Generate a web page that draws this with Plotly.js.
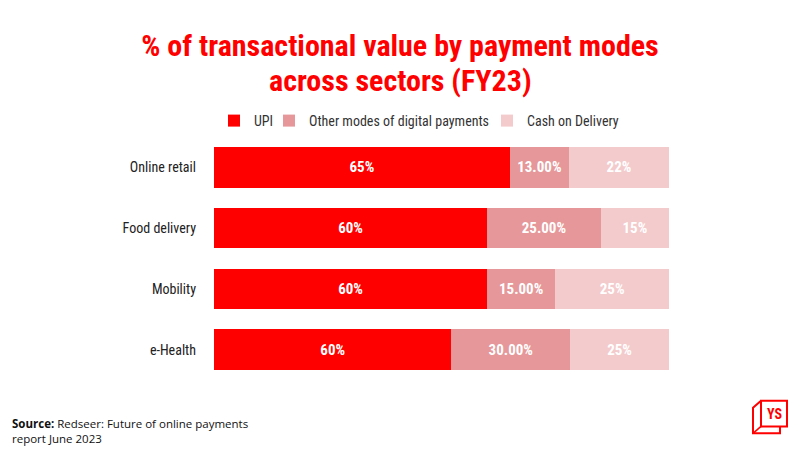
<!DOCTYPE html>
<html><head><meta charset="utf-8">
<script src="https://cdn.plot.ly/plotly-3.0.1.min.js"></script>
<style>html,body{margin:0;padding:0;background:#fff;}#c{width:800px;height:450px;}</style>
</head><body><div id="c"></div>
<script>
var sectors = ["Online retail", "Food delivery", "Mobility", "e-Health"];
var upi = [65, 60, 60, 60];
var otherDigital = [13, 25, 15, 30];
var cod = [22, 15, 25, 25];
var seriesNames = ["UPI", "Other modes of digital payments", "Cash on Delivery"];
var titleLines = ["% of transactional value by payment modes", "across sectors (FY23)"];
var colors = ["#FF0000", "#E59799", "#F3CBCC"];

var W = 800, H = 450, L = 214, R = 131, T = 134, B = 70;
function px(x){ return (x - L) / (W - L - R); }
function py(y){ return (H - B - y) / (H - T - B); }

var COND = "Roboto Condensed, Roboto, sans-serif";
var barFont = {family: COND, size: 15, color: "#FFFFFF", weight: "bold"};
var legendIds = ["legend", "legend2", "legend3"];
function mk(vals, i, fmt){
  return {
    type: "bar", orientation: "h", name: seriesNames[i], legend: legendIds[i],
    y: sectors, x: vals,
    text: vals.map(fmt), texttemplate: "%{text}", textposition: "inside",
    insidetextanchor: "middle", textfont: barFont, constraintext: "none",
    marker: {color: colors[i], line: {width: 0}},
    hoverinfo: "skip"
  };
}
var data = [
  mk(upi, 0, function(v){ return v + "%"; }),
  mk(otherDigital, 1, function(v){ return v.toFixed(2) + "%"; }),
  mk(cod, 2, function(v){ return v + "%"; })
];

var legFont = {family: COND, size: 14, color: "#333333"};
function leg(xStart){
  return {orientation: "h", xref: "container", yref: "container", x: xStart / W, xanchor: "left",
          y: 1 - 121 / H, yanchor: "middle", font: legFont, bgcolor: "rgba(0,0,0,0)", borderwidth: 0};
}

var layout = {
  width: W, height: H,
  margin: {l: L, r: R, t: T, b: B, pad: 0},
  paper_bgcolor: "#FFFFFF", plot_bgcolor: "#FFFFFF",
  barmode: "stack", barnorm: "percent", bargap: 0.335,
  showlegend: true,
  legend: leg(214), legend2: leg(269), legend3: leg(487),
  title: {text: titleLines[0],
          x: 0.5, xanchor: "center", xref: "container", y: 1 - 45/H, yanchor: "middle", yref: "container",
          font: {family: COND, size: 30, color: "#FF0000", weight: "bold"}},
  xaxis: {range: [0, 100], showgrid: false, zeroline: false, showticklabels: false, showline: false, fixedrange: true},
  yaxis: {autorange: "reversed", showgrid: false, zeroline: false, showline: false, ticks: "",
          ticklabelstandoff: 17,
          tickfont: {family: COND, size: 14, color: "#222222"}},
  annotations: [
    {text: titleLines[1], xref: "paper", yref: "paper", x: px(400), y: py(77), xanchor: "center", yanchor: "middle",
     showarrow: false, font: {family: COND, size: 30, color: "#FF0000", weight: "bold"}},
    {text: "<b>Source:</b> Redseer: Future of online payments<br>report June 2023", xref: "paper", yref: "paper",
     x: px(10), y: py(432), xanchor: "left", yanchor: "middle", align: "left", showarrow: false,
     font: {family: "Open Sans, Noto Sans, sans-serif", size: 11.5, color: "#111111"}},
    {text: "<b>YS</b>", xref: "paper", yref: "paper", x: px(774), y: py(414), xanchor: "center", yanchor: "middle",
     showarrow: false, font: {family: COND, size: 14, color: "#FF0000"}}
  ],
  shapes: [
    {type: "rect", xref: "paper", yref: "paper", x0: px(761), x1: px(787), y0: py(401), y1: py(427),
     line: {color: "#FF0000", width: 2}, fillcolor: "rgba(0,0,0,0)"},
    {type: "path", xref: "paper", yref: "paper",
     path: "M " + px(761) + " " + py(401) + " L " + px(753) + " " + py(408) + " L " + px(753) + " " + py(434) +
           " L " + px(780) + " " + py(434) + " L " + px(780) + " " + py(427),
     line: {color: "#FF0000", width: 2}},
    {type: "line", xref: "paper", yref: "paper", x0: px(761), y0: py(427), x1: px(753), y1: py(434),
     line: {color: "#FF0000", width: 1.5}}
  ]
};
Plotly.newPlot("c", data, layout, {displayModeBar: false, staticPlot: true});
</script></body></html>
